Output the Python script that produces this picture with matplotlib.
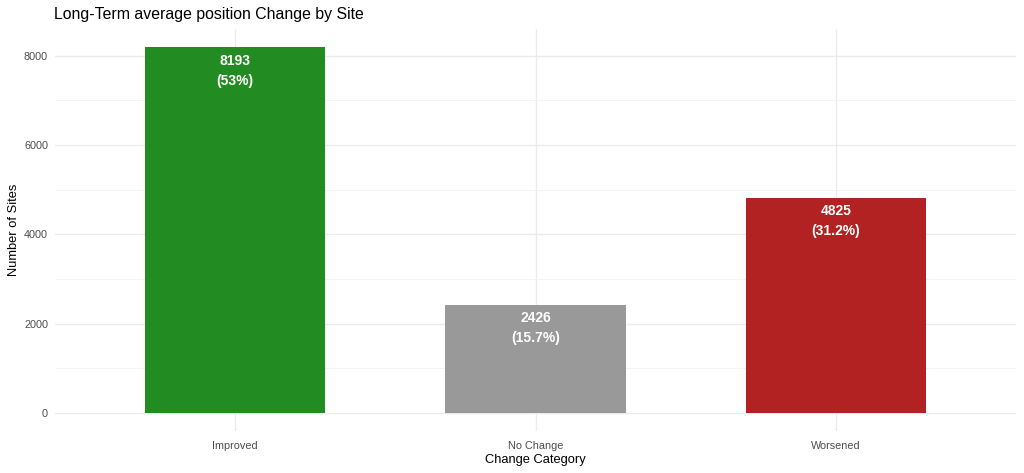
import matplotlib
matplotlib.use("Agg")
import matplotlib.pyplot as plt
from matplotlib.ticker import MultipleLocator

categories = ["Improved", "No Change", "Worsened"]
counts = [8193, 2426, 4825]
pct_labels = ["53%", "15.7%", "31.2%"]
colors = ["#228B22", "#999999", "#B22222"]

plt.rcParams['font.family'] = ['Liberation Sans', 'DejaVu Sans']

fig = plt.figure(figsize=(10.24, 4.73), dpi=100)
ax = fig.add_axes([55/1024, 1 - 431/473, (1016-55)/1024, (431-29)/473])

x = list(range(1, len(categories) + 1))
ax.bar(x, counts, width=0.6, color=colors, zorder=3)
for xi, c, p in zip(x, counts, pct_labels):
    ax.annotate(f"{c}\n({p})", xy=(xi, c), xytext=(0, -4.5), textcoords="offset points",
                ha="center", va="top", color="white", fontweight="bold", fontsize=10,
                linespacing=1.55, zorder=4)

ymax = max(counts)
ax.set_xlim(0.4, 3.6)
ax.set_ylim(-0.05 * ymax, 1.05 * ymax)
ax.set_xticks(x)
ax.set_xticklabels(categories)
ax.yaxis.set_major_locator(MultipleLocator(2000))
ax.yaxis.set_minor_locator(MultipleLocator(1000))
ax.grid(which="major", color="#EBEBEB", linewidth=1.0, zorder=0)
ax.grid(which="minor", axis="y", color="#F3F3F3", linewidth=0.6, zorder=0)
for s in ax.spines.values():
    s.set_visible(False)
ax.tick_params(which="both", length=0, labelsize=7.8, labelcolor="#4D4D4D")
ax.tick_params(axis="x", pad=7)
ax.tick_params(axis="y", pad=5)
ax.set_xlabel("Change Category", fontsize=9.3, color="black", labelpad=2)
ax.set_ylabel("Number of Sites", fontsize=9.3, color="black", labelpad=3)
fig.text(54/1024, 1 - 14/473, "Long-Term average position Change by Site", fontsize=11.4,
         ha="left", va="center", color="black")

fig.savefig("out.png", dpi=100)
